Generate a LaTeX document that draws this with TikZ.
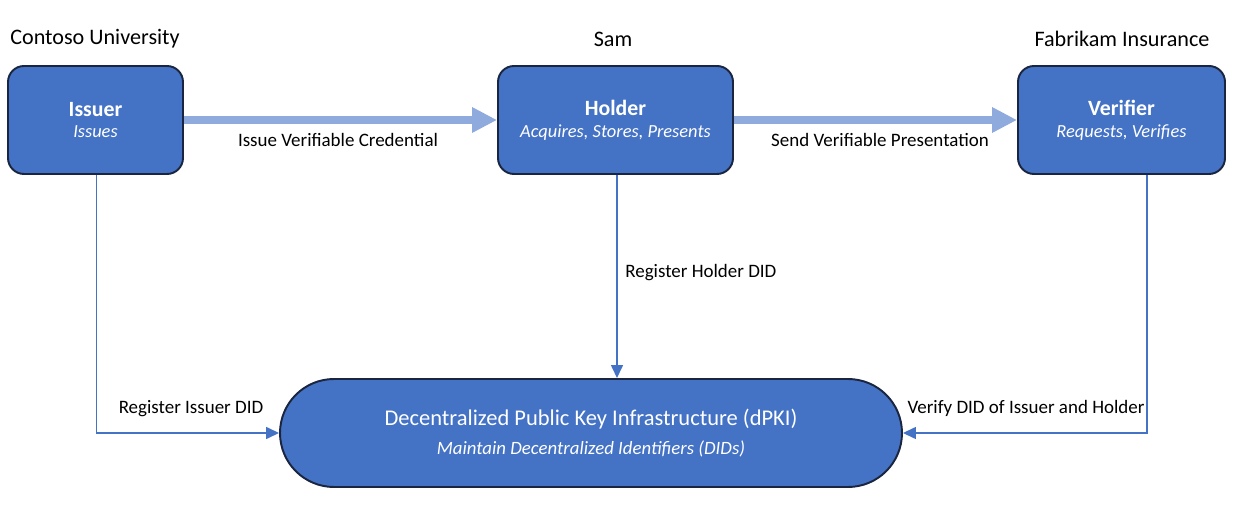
\documentclass[tikz,border=0pt]{standalone}
\usepackage{fontspec}
\setmainfont{Carlito}
\usetikzlibrary{arrows.meta}
\definecolor{boxblue}{HTML}{4472C4}
\definecolor{boxedge}{HTML}{1A2540}
\definecolor{thickblue}{HTML}{8FAADC}
\definecolor{thinblue}{HTML}{4472C4}
\tikzset{
  rolebox/.style={draw=boxedge, line width=1.1pt, fill=boxblue, rounded corners=0.32cm,
    minimum height=2.16cm, text=white, align=center, inner sep=0pt,
    font=\fontsize{12.4}{12.5}\selectfont},
  ledger/.style={draw=boxedge, line width=1.1pt, fill=boxblue, rounded corners=1.08cm,
    minimum height=2.16cm, minimum width=12.44cm, text=white, align=center, inner sep=0pt,
    font=\fontsize{12.8}{16.5}\selectfont},
  partytitle/.style={anchor=base, inner sep=0pt, font=\fontsize{12.6}{14}\selectfont},
  flowlabel/.style={anchor=base, inner sep=0pt, font=\fontsize{10.8}{12}\selectfont},
  bigflow/.style={draw=thickblue, line width=4pt,
    -{Triangle[length=0.5cm,width=0.48cm,fill=thickblue]}},
  smallflow/.style={draw=thinblue, line width=0.85pt,
    -{Triangle[length=0.26cm,width=0.24cm,fill=thinblue]}},
}
\begin{document}
\begin{tikzpicture}
\useasboundingbox (0,0) rectangle (24.96,-10.4);
% boxes
\node[rolebox, minimum width=3.5cm] (issuer) at (1.91,-2.40)
  {\textbf{Issuer}\\{\fontsize{10.5}{12.5}\selectfont\itshape Issues}};
\node[rolebox, minimum width=4.7cm] (holder) at (12.31,-2.40)
  {\textbf{Holder}\\{\fontsize{10.5}{12.5}\selectfont\itshape Acquires, Stores, Presents}};
\node[rolebox, minimum width=4.14cm] (verifier) at (22.43,-2.40)
  {\textbf{Verifier}\\{\fontsize{10.5}{12.5}\selectfont\itshape Requests, Verifies}};
\node[ledger] (dpki) at (11.82,-8.66)
  {Decentralized Public Key Infrastructure (dPKI)\\{\fontsize{10.7}{16.5}\selectfont\itshape Maintain Decentralized Identifiers (DIDs)}};
% party titles
\node[partytitle] (contoso) at (1.90,-0.90) {Contoso University};
\node[partytitle] (sam) at (12.26,-0.94) {Sam};
\node[partytitle] (fabrikam) at (22.44,-0.94) {Fabrikam Insurance};
% thick flows
\draw[bigflow] (issuer.east) -- (holder.west);
\draw[bigflow] (holder.east) -- (verifier.west);
\node[flowlabel] (lblissue) at (6.76,-2.94) {Issue Verifiable Credential};
\node[flowlabel] (lblsend) at (17.60,-2.94) {Send Verifiable Presentation};
% thin flows
\draw[smallflow] ([xshift=0.02cm]issuer.south) |- (dpki.west);
\draw[smallflow] ([xshift=0.03cm]holder.south) -- ([xshift=0.03cm]holder.south |- dpki.north);
\draw[smallflow] ([xshift=0.51cm]verifier.south) |- (dpki.east);
\node[flowlabel] (lblregissuer) at (3.82,-8.28) {Register Issuer DID};
\node[flowlabel, anchor=base west] (lblregholder) at (12.50,-5.56) {Register Holder DID};
\node[flowlabel] (lblverify) at (20.52,-8.28) {Verify DID of Issuer and Holder};
\end{tikzpicture}
\end{document}
